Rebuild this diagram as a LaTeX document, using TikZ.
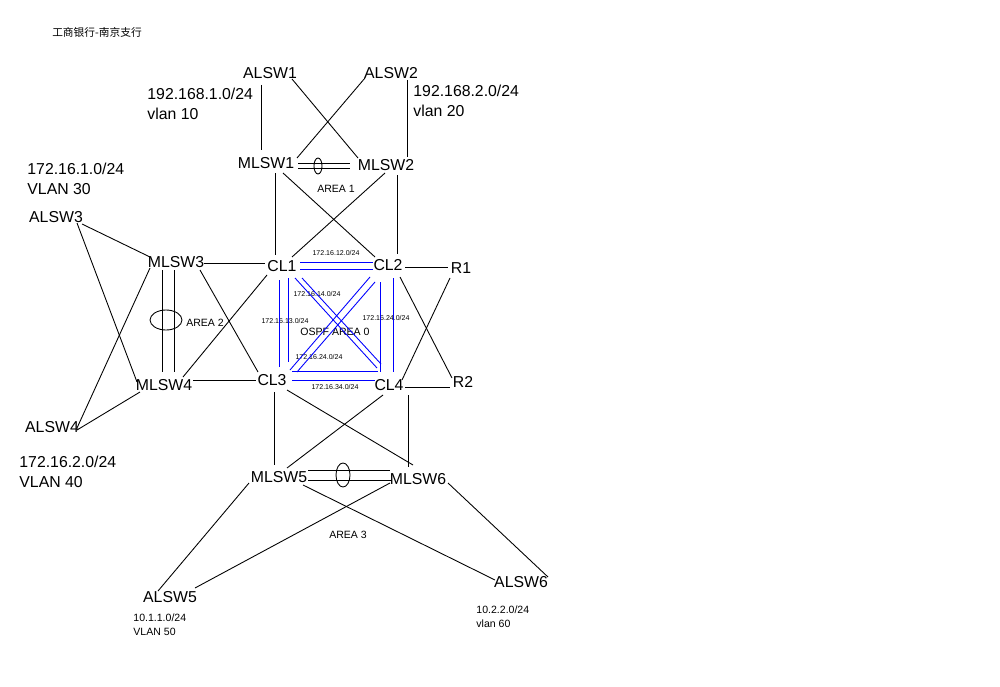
\documentclass[tikz,border=0pt]{standalone}
\usepackage{fontspec}
\setmainfont{Liberation Sans}
\newfontfamily\cjk{Noto Sans CJK SC}
\usetikzlibrary{calc}

\begin{document}
\begin{tikzpicture}[x=0.02cm,y=-0.02cm,line width=0.5pt,
  dev/.style={inner sep=1pt,font=\fontsize{9}{11}\selectfont},
  net/.style={anchor=west,align=left,inner sep=0pt,font=\fontsize{9}{11.4}\selectfont},
  subnet/.style={anchor=west,align=left,inner sep=0pt,font=\fontsize{6}{8}\selectfont},
  area/.style={inner sep=0pt,font=\fontsize{6}{7}\selectfont},
  ip/.style={inner sep=0pt,font=\fontsize{4}{5}\selectfont},
  link/.style={blue}]
\useasboundingbox (0,0) rectangle (1000,686);

\node[inner sep=0pt,font=\cjk\fontsize{6.1}{8}\selectfont] (title) at (97,32) {工商银行-南京支行};

% devices
\node[dev] (ALSW1) at (270,73) {ALSW1};
\node[dev] (ALSW2) at (391,73) {ALSW2};
\node[dev] (MLSW1) at (266,163) {MLSW1};
\node[dev] (MLSW2) at (386,165) {MLSW2};
\node[dev] (ALSW3) at (56,217) {ALSW3};
\node[dev] (MLSW3) at (176,262) {MLSW3};
\node[dev] (CL1) at (282,266) {CL1};
\node[dev] (CL2) at (388,265) {CL2};
\node[dev] (R1) at (461,268) {R1};
\node[dev] (MLSW4) at (164,385) {MLSW4};
\node[dev] (CL3) at (272,380) {CL3};
\node[dev] (CL4) at (389,385) {CL4};
\node[dev] (R2) at (463,382) {R2};
\node[dev] (ALSW4) at (52,427) {ALSW4};
\node[dev] (MLSW5) at (279,477) {MLSW5};
\node[dev] (MLSW6) at (418,479) {MLSW6};
\node[dev] (ALSW5) at (170,597) {ALSW5};
\node[dev] (ALSW6) at (521,582) {ALSW6};

% networks
\node[net] (net10) at (147,104) {192.168.1.0/24\\vlan 10};
\node[net] (net20) at (413,101) {192.168.2.0/24\\vlan 20};
\node[net] (net30) at (27,178.5) {172.16.1.0/24\\VLAN 30};
\node[net] (net40) at (19,472) {172.16.2.0/24\\VLAN 40};
\node[subnet] (net50) at (133,625) {10.1.1.0/24\\VLAN 50};
\node[subnet] (net60) at (476,616.5) {10.2.2.0/24\\vlan 60};

% areas
\node[area] (area1) at (336,189) {AREA 1};
\node[area] (area2) at (205,323) {AREA 2};
\node[area] (area0) at (335,332) {OSPF AREA 0};
\node[area] (area3) at (348,535) {AREA 3};

% core subnets
\node[ip] (ip12) at (336,253) {172.16.12.0/24};
\node[ip] (ip14) at (317,294) {172.16.14.0/24};
\node[ip] (ip13) at (285,321) {172.16.13.0/24};
\node[ip] (ip24a) at (386,318) {172.16.24.0/24};
\node[ip] (ip24b) at (319,357) {172.16.24.0/24};
\node[ip] (ip34) at (335,387) {172.16.34.0/24};

% area 1
\draw ($(ALSW1)+(-9,12)$) -- ($(MLSW1)+(-5,-13)$);
\draw ($(ALSW1)+(22,6)$) -- ($(MLSW2)+(-28,-7)$);
\draw ($(ALSW2)+(-26,5)$) -- ($(MLSW1)+(31,-5)$);
\draw ($(ALSW2)+(16,7)$) -- ($(MLSW2)+(21,-8)$);
\draw ($(MLSW1)+(32,0)$) -- ($(MLSW2)+(-36,-2)$)
      ($(MLSW1)+(32,5)$) -- ($(MLSW2)+(-36,3)$);
\draw (318,166) ellipse [x radius=4,y radius=8];
\draw ($(MLSW1)+(9,10)$) -- ($(CL1)+(-7,-11)$);
\draw ($(MLSW1)+(17,10)$) -- ($(CL2)+(-13,-8)$);
\draw ($(MLSW2)+(-1,8)$) -- ($(CL1)+(10,-9)$);
\draw ($(MLSW2)+(11,10)$) -- ($(CL2)+(9,-11)$);

% area 2
\draw ($(ALSW3)+(26,7)$) -- ($(MLSW3)+(-26,-5)$);
\draw ($(ALSW3)+(21,6)$) -- ($(MLSW4)+(-27,-3)$);
\draw ($(ALSW4)+(25,1)$) -- ($(MLSW3)+(-26,6)$);
\draw ($(ALSW4)+(25,3)$) -- ($(MLSW4)+(-24,7)$);
\draw ($(MLSW3)+(-14,8)$) -- ($(MLSW4)+(-2,-13)$)
      ($(MLSW3)+(-2,8)$) -- ($(MLSW4)+(10,-13)$);
\draw (166,320) ellipse [x radius=16,y radius=10];
\draw ($(MLSW3)+(28,1)$) -- ($(CL1)+(-17,-3)$);
\draw ($(MLSW3)+(24,8)$) -- ($(CL3)+(-14,-8)$);
\draw ($(MLSW4)+(19,-8)$) -- ($(CL1)+(-15,9)$);
\draw ($(MLSW4)+(29,-5)$) -- ($(CL3)+(-16,0)$);

% routers
\draw ($(CL2)+(17,2)$) -- ($(R1)+(-13,-1)$);
\draw ($(CL2)+(12,12)$) -- ($(R2)+(-11,-4)$);
\draw ($(CL4)+(13,-5)$) -- ($(R1)+(-11,10)$);
\draw ($(CL4)+(16,2)$) -- ($(R2)+(-13,5)$);

% area 0
\draw[link] ($(CL1)+(18,-4)$) -- ($(CL2)+(-15,-3)$)
            ($(CL1)+(18,3)$) -- ($(CL2)+(-15,4)$);
\draw[link] ($(CL1)+(-3,14)$) -- ($(CL3)+(7,-13)$)
            ($(CL1)+(6,12)$) -- ($(CL3)+(16,-18)$);
\draw[link] ($(CL2)+(-8,17)$) -- ($(CL4)+(-9,-13)$)
            ($(CL2)+(5,13)$) -- ($(CL4)+(4,-13)$);
\draw[link] ($(CL3)+(20,-9)$) -- ($(CL4)+(-11,-14)$)
            ($(CL3)+(20,0)$) -- ($(CL4)+(-14,-5)$);
\draw[link] ($(CL1)+(13,12)$) -- ($(CL4)+(-12,-17)$)
            ($(CL1)+(20,12)$) -- ($(CL4)+(-8,-21)$);
\draw[link] ($(CL2)+(-18,12)$) -- ($(CL3)+(18,-10)$)
            ($(CL2)+(-13,17)$) -- ($(CL3)+(25,-8)$);

% area 3
\draw ($(CL3)+(2,12)$) -- ($(MLSW5)+(-5,-12)$);
\draw ($(CL3)+(15,10)$) -- ($(MLSW6)+(-5,-14)$);
\draw ($(CL4)+(-6,10)$) -- ($(MLSW5)+(8,-9)$);
\draw ($(CL4)+(19,10)$) -- ($(MLSW6)+(-10,-12)$);
\draw ($(MLSW5)+(29,-7)$) -- ($(MLSW6)+(-28,-9)$)
      ($(MLSW5)+(29,3)$) -- ($(MLSW6)+(-26,1)$);
\draw (343,475) ellipse [x radius=7,y radius=12];
\draw ($(MLSW5)+(-30,6)$) -- ($(ALSW5)+(-12,-6)$);
\draw ($(MLSW5)+(24,8)$) -- ($(ALSW6)+(-26,-2)$);
\draw ($(MLSW6)+(-28,4)$) -- ($(ALSW5)+(25,-9)$);
\draw ($(MLSW6)+(30,4)$) -- ($(ALSW6)+(27,-5)$);
\end{tikzpicture}
\end{document}
